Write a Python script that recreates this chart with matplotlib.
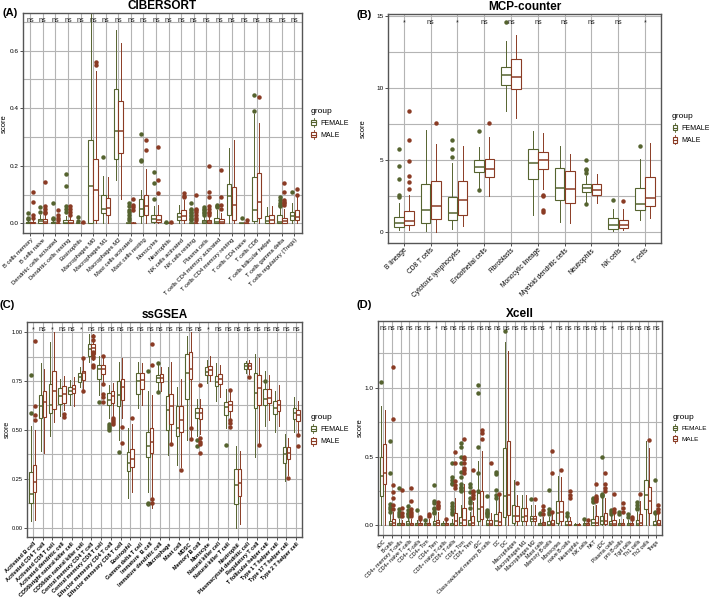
import matplotlib
matplotlib.use('Agg')
import matplotlib.pyplot as plt
from matplotlib.patches import Rectangle, Patch
from matplotlib.lines import Line2D
from matplotlib.legend_handler import HandlerBase
import numpy as np

plt.rcParams['font.family'] = ['Liberation Sans', 'DejaVu Sans']

FEM_COL = '#55632f'
MALE_COL = '#8a3b24'

# ---------------- (A) CIBERSORT ----------------
a_cells = ['B cells memory', 'B cells naive', 'Dendritic cells activated', 'Dendritic cells resting',
           'Eosinophils', 'Macrophages M0', 'Macrophages M1', 'Macrophages M2', 'Mast cells activated',
           'Mast cells resting', 'Monocytes', 'Neutrophils', 'NK cells activated', 'NK cells resting',
           'Plasma cells', 'T cells CD4 memory activated', 'T cells CD4 memory resting', 'T cells CD4 naive',
           'T cells CD8', 'T cells follicular helper', 'T cells gamma delta', 'T cells regulatory (Tregs)']
a_sig = ['ns'] * 22
# (whislo, q1, med, q3, whishi)
a_female = [(0, 0, 0.001, 0.005, 0.01), (0, 0.002, 0.008, 0.015, 0.03), (0, 0, 0.001, 0.005, 0.01),
            (0, 0, 0.002, 0.01, 0.025), (0, 0, 0, 0.002, 0.004), (0, 0, 0.13, 0.29, 0.73),
            (0, 0.035, 0.05, 0.10, 0.165), (0.15, 0.225, 0.32, 0.465, 0.67), (0, 0, 0, 0, 0),
            (0, 0.025, 0.05, 0.085, 0.115), (0, 0.003, 0.015, 0.03, 0.06), (0, 0, 0, 0.001, 0.002),
            (0, 0.012, 0.022, 0.035, 0.065), (0, 0, 0, 0, 0), (0, 0.001, 0.005, 0.012, 0.025),
            (0, 0, 0.005, 0.02, 0.045), (0, 0.03, 0.095, 0.135, 0.26), (0, 0, 0, 0, 0),
            (0, 0.007, 0.045, 0.16, 0.38), (0, 0.001, 0.008, 0.025, 0.057), (0, 0, 0.005, 0.03, 0.055),
            (0, 0.01, 0.025, 0.04, 0.07)]
a_female_out = [[0.035, 0.02, 0.015], [0.055, 0.04], [0.07, 0.02, 0.015], [0.17, 0.13, 0.06, 0.05, 0.04],
                [0.022, 0.008], [], [0.23], [], [0.07, 0.06, 0.045, 0.04, 0.03, 0.02, 0.01],
                [0.31, 0.22, 0.215], [0.18, 0.14, 0.085], [0.005], [],
                [0.07, 0.05, 0.045, 0.04, 0.035, 0.03, 0.025, 0.02, 0.015, 0.01],
                [0.055, 0.05, 0.045, 0.04, 0.035, 0.03], [0.065, 0.06, 0.055], [], [0.02],
                [0.445, 0.39], [], [0.09, 0.08, 0.07, 0.065, 0.06], [0.11]]
a_male = [(0, 0, 0.001, 0.005, 0.01), (0, 0.002, 0.006, 0.015, 0.03), (0, 0, 0, 0.002, 0.005),
          (0, 0, 0.002, 0.01, 0.025), (0, 0, 0, 0.001, 0.002), (0, 0.01, 0.115, 0.225, 0.53),
          (0, 0.03, 0.053, 0.088, 0.16), (0.085, 0.245, 0.32, 0.425, 0.625), (0, 0, 0, 0.002, 0.004),
          (0, 0.03, 0.06, 0.10, 0.19), (0, 0.003, 0.01, 0.03, 0.065), (0, 0, 0, 0.001, 0.002),
          (0, 0.01, 0.025, 0.045, 0.08), (0, 0, 0, 0.002, 0.005), (0, 0.002, 0.005, 0.012, 0.025),
          (0, 0, 0.005, 0.015, 0.035), (0, 0.01, 0.065, 0.125, 0.29), (0, 0, 0, 0, 0),
          (0, 0.02, 0.075, 0.175, 0.35), (0, 0.001, 0.01, 0.028, 0.06), (0, 0, 0.008, 0.02, 0.05),
          (0, 0.01, 0.022, 0.045, 0.09)]
a_male_out = [[0.11, 0.075, 0.03, 0.02], [0.145, 0.06, 0.05, 0.04, 0.035], [0.045, 0.03, 0.02, 0.01],
              [0.06, 0.05, 0.04, 0.03], [0.005], [0.56, 0.55], [], [], [0.085, 0.065, 0.055, 0.045],
              [0.29, 0.255], [0.265, 0.15, 0.105], [0.004], [0.105, 0.095, 0.09],
              [0.1, 0.05, 0.045, 0.04, 0.03, 0.02, 0.01], [0.2, 0.11, 0.09, 0.06, 0.05, 0.04, 0.035, 0.03],
              [0.185, 0.09, 0.065, 0.05], [], [0.012], [0.44], [],
              [0.14, 0.11, 0.08, 0.075, 0.07, 0.065], [0.12, 0.1]]

# ---------------- (B) MCP-counter ----------------
b_cells = ['B lineage', 'CD8 T cells', 'Cytotoxic lymphocytes', 'Endothelial cells', 'Fibroblasts',
           'Monocytic lineage', 'Myeloid dendritic cells', 'Neutrophils', 'NK cells', 'T cells']
b_sig = ['*', 'ns', '*', 'ns', 'ns', 'ns', 'ns', 'ns', 'ns', '*']
b_female = [(0.1, 0.35, 0.6, 1.05, 2.0), (0.05, 0.65, 1.55, 3.3, 7.1), (0.2, 0.8, 1.3, 2.4, 4.8),
            (3.0, 4.2, 4.55, 5.0, 5.9), (8.4, 10.2, 10.9, 11.5, 13.3), (1.2, 3.7, 4.8, 5.8, 7.0),
            (0.7, 2.2, 3.05, 4.45, 6.0), (2.1, 2.75, 3.05, 3.3, 3.9), (0.05, 0.2, 0.45, 0.95, 1.6),
            (0.85, 1.55, 1.95, 3.05, 5.1)]
b_female_out = [[5.8, 4.6, 3.7, 2.6, 2.4], [], [6.4, 5.8, 5.2], [7.0, 2.9], [14.6], [], [],
                [5.0, 4.4, 4.3, 4.1, 1.95], [2.2], [6.0]]
b_male = [(0.1, 0.45, 0.75, 1.45, 2.6), (0.0, 0.9, 1.8, 3.55, 6.1), (0.4, 1.2, 2.2, 3.55, 6.0),
          (2.5, 3.85, 4.35, 5.1, 6.6), (7.9, 9.95, 10.75, 12.05, 13.7), (3.0, 4.4, 5.0, 5.55, 6.9),
          (0.6, 2.0, 3.0, 4.25, 5.4), (2.0, 2.6, 2.95, 3.35, 4.0), (0.1, 0.25, 0.45, 0.85, 1.6),
          (0.95, 1.8, 2.35, 3.85, 6.2)]
b_male_out = [[8.4, 6.4, 4.9, 3.9, 3.5, 3.0], [7.55], [], [7.55], [], [2.6, 2.5, 1.5, 1.4], [], [], [2.15], []]

# ---------------- (C) ssGSEA ----------------
c_cells = ['Activated B cell', 'Activated CD4 T cell', 'Activated CD8 T cell', 'Activated dendritic cell',
           'CD56bright natural killer cell', 'CD56dim natural killer cell', 'Central memory CD4 T cell',
           'Central memory CD8 T cell', 'Effector memeory CD4 T cell', 'Effector memeory CD8 T cell',
           'Eosinophil', 'Gamma delta T cell', 'Immature  B cell', 'Immature dendritic cell', 'Macrophage',
           'Mast cell', 'MDSC', 'Memory B cell', 'Monocyte', 'Natural killer cell', 'Natural killer T cell',
           'Neutrophil', 'Plasmacytoid dendritic cell', 'Regulatory T cell', 'T follicular helper cell',
           'Type 1 T helper cell', 'Type 17 T helper cell', 'Type 2 T helper cell']
c_sig = ['*', 'ns', '*', 'ns', 'ns', '*', 'ns', 'ns', 'ns', 'ns', 'ns', 'ns', 'ns', 'ns', 'ns', 'ns', 'ns',
         'ns', '*', 'ns', 'ns', 'ns', 'ns', 'ns', 'ns', 'ns', 'ns', 'ns']
c_female = [(0.035, 0.126, 0.174, 0.285, 0.52), (0.39, 0.563, 0.62, 0.68, 0.84), (0.47, 0.585, 0.625, 0.735, 0.95),
            (0.57, 0.635, 0.675, 0.715, 0.76), (0.63, 0.685, 0.70, 0.72, 0.755), (0.72, 0.745, 0.77, 0.79, 0.82),
            (0.85, 0.88, 0.915, 0.94, 0.99), (0.68, 0.76, 0.81, 0.83, 0.88), (0.56, 0.63, 0.655, 0.69, 0.73),
            (0.45, 0.62, 0.68, 0.75, 0.85), (0.15, 0.29, 0.33, 0.385, 0.51), (0.61, 0.685, 0.75, 0.79, 0.85),
            (0.18, 0.36, 0.415, 0.49, 0.70), (0.70, 0.745, 0.765, 0.78, 0.83), (0.37, 0.502, 0.60, 0.672, 0.82),
            (0.32, 0.47, 0.51, 0.62, 0.72), (0.45, 0.66, 0.79, 0.89, 0.98), (0.47, 0.56, 0.585, 0.61, 0.66),
            (0.74, 0.78, 0.795, 0.82, 0.86), (0.65, 0.725, 0.745, 0.775, 0.84), (0.51, 0.575, 0.615, 0.645, 0.71),
            (0.0, 0.12, 0.22, 0.30, 0.42), (0.79, 0.81, 0.825, 0.84, 0.855), (0.36, 0.61, 0.69, 0.79, 0.89),
            (0.52, 0.63, 0.66, 0.71, 0.80), (0.49, 0.58, 0.61, 0.65, 0.70), (0.24, 0.33, 0.375, 0.41, 0.48),
            (0.49, 0.555, 0.585, 0.61, 0.67)]
c_female_out = [[0.78, 0.585], [], [], [], [], [], [], [0.645], [0.53, 0.52, 0.51, 0.50], [0.385], [], [],
                [0.80, 0.125, 0.12], [0.84, 0.695], [], [], [], [0.45, 0.415], [], [], [0.425], [], [], [],
                [0.75], [], [], []]
c_male = [(0.04, 0.183, 0.234, 0.32, 0.50), (0.38, 0.566, 0.645, 0.70, 0.81), (0.54, 0.605, 0.70, 0.80, 1.0),
          (0.60, 0.64, 0.685, 0.725, 0.775), (0.62, 0.69, 0.71, 0.73, 0.77), (0.71, 0.755, 0.79, 0.80, 0.86),
          (0.86, 0.89, 0.92, 0.94, 0.99), (0.74, 0.785, 0.81, 0.83, 0.87), (0.57, 0.64, 0.675, 0.70, 0.74),
          (0.56, 0.655, 0.72, 0.76, 0.87), (0.18, 0.31, 0.35, 0.40, 0.53), (0.63, 0.71, 0.755, 0.79, 0.84),
          (0.10, 0.38, 0.44, 0.51, 0.68), (0.70, 0.745, 0.765, 0.785, 0.82), (0.43, 0.532, 0.62, 0.683, 0.85),
          (0.31, 0.49, 0.55, 0.62, 0.76), (0.45, 0.76, 0.81, 0.90, 1.0), (0.48, 0.555, 0.585, 0.61, 0.66),
          (0.75, 0.78, 0.805, 0.825, 0.88), (0.67, 0.735, 0.76, 0.785, 0.83), (0.56, 0.595, 0.625, 0.65, 0.70),
          (0.02, 0.16, 0.23, 0.30, 0.39), (0.785, 0.81, 0.825, 0.84, 0.86), (0.43, 0.63, 0.715, 0.78, 0.87),
          (0.55, 0.64, 0.665, 0.71, 0.78), (0.52, 0.595, 0.625, 0.655, 0.73), (0.27, 0.35, 0.38, 0.41, 0.46),
          (0.48, 0.545, 0.575, 0.60, 0.65)]
c_male_out = [[0.955, 0.62, 0.575, 0.55], [], [], [0.58, 0.565], [], [0.87, 0.70],
              [0.98, 0.96, 0.90, 0.88, 0.87, 0.83, 0.82], [0.88, 0.735, 0.685, 0.67, 0.645],
              [0.56, 0.55, 0.54, 0.53], [0.515, 0.435], [0.56], [], [0.94, 0.83, 0.145, 0.125], [],
              [0.427], [0.293], [0.51, 0.455], [0.73, 0.46, 0.44, 0.43, 0.38], [], [],
              [0.705, 0.55, 0.535, 0.515], [], [0.77], [0.425], [], [], [0.255], [0.475, 0.42]]

# ---------------- (D) Xcell ----------------
d_cells = ['aDC', 'B-cells', 'CD4+ memory T-cells', 'CD4+ naive T-cells', 'CD4+ T-cells', 'CD4+ Tcm',
           'CD4+ Tem', 'CD8+ naive T-cells', 'CD8+ T-cells', 'CD8+ Tcm', 'CD8+ Tem', 'cDC',
           'Class-switched memory B-cells', 'DC', 'iDC', 'Macrophages', 'Macrophages M1', 'Macrophages M2',
           'Mast cells', 'Memory B-cells', 'Monocytes', 'naive B-cells', 'Neutrophils', 'NK cells', 'NKT',
           'pDC', 'Plasma cells', 'pro B-cells', 'Tgd cells', 'Th1 cells', 'Th2 cells', 'Tregs']
d_sig = ['ns'] * 32
d_sig[6] = '*'
d_sig[19] = '*'
d_sig[26] = '*'
d_female = [(0, 0.21, 0.36, 0.50, 0.865), (0, 0, 0.01, 0.035, 0.08), (0, 0, 0.005, 0.02, 0.05),
            (0, 0, 0.01, 0.03, 0.06), (0, 0, 0.005, 0.02, 0.04), (0, 0, 0.003, 0.015, 0.03),
            (0, 0, 0.01, 0.03, 0.07), (0, 0, 0.003, 0.015, 0.03), (0, 0, 0.005, 0.02, 0.05),
            (0, 0, 0.02, 0.06, 0.15), (0, 0, 0.01, 0.04, 0.10), (0, 0.034, 0.116, 0.232, 0.47),
            (0, 0, 0.01, 0.04, 0.10), (0, 0.005, 0.03, 0.08, 0.19), (0, 0.063, 0.21, 0.56, 1.33),
            (0, 0.02, 0.07, 0.15, 0.33), (0, 0.03, 0.06, 0.13, 0.22), (0, 0.03, 0.05, 0.07, 0.15),
            (0, 0, 0.005, 0.02, 0.05), (0, 0, 0.005, 0.03, 0.06), (0, 0.02, 0.09, 0.18, 0.36),
            (0, 0, 0.005, 0.03, 0.06), (0, 0, 0.002, 0.01, 0.02), (0, 0, 0.005, 0.015, 0.03),
            (0, 0.005, 0.02, 0.05, 0.14), (0, 0.01, 0.03, 0.07, 0.20), (0, 0, 0.01, 0.03, 0.07),
            (0, 0, 0.005, 0.02, 0.05), (0, 0, 0.005, 0.02, 0.04), (0, 0, 0.01, 0.04, 0.10),
            (0, 0.12, 0.22, 0.33, 0.61), (0, 0, 0.005, 0.03, 0.08)]
d_female_out = [[1.04], [0.61, 0.378, 0.155, 0.135, 0.12, 0.10], [0.27, 0.12, 0.10, 0.08, 0.065],
                [0.14, 0.11, 0.09, 0.08, 0.07], [0.11], [0.04], [0.29, 0.18, 0.16, 0.13, 0.12, 0.10, 0.09],
                [], [0.45, 0.35, 0.33, 0.31, 0.30, 0.16, 0.14, 0.12, 0.10, 0.08],
                [0.60, 0.57, 0.50, 0.45, 0.39, 0.35, 0.30, 0.28, 0.27, 0.26, 0.25],
                [0.30, 0.28, 0.24, 0.20, 0.18, 0.16, 0.13], [1.02, 0.96, 0.57, 0.38, 0.25],
                [0.21, 0.11, 0.10, 0.09, 0.08, 0.07], [0.39, 0.37, 0.26, 0.22, 0.20], [1.41], [], [], [0.19],
                [0.09, 0.08], [0.26, 0.12, 0.10, 0.08], [], [0.09, 0.07], [], [0.05],
                [0.20, 0.19, 0.18, 0.17], [0.50, 0.23, 0.22, 0.21], [0.11, 0.10, 0.08], [0.10, 0.08],
                [0.085, 0.06], [0.17, 0.15, 0.13, 0.12], [], [0.33, 0.10, 0.09]]
d_male = [(0.0, 0.30, 0.38, 0.59, 0.84), (0, 0, 0.02, 0.05, 0.10), (0, 0, 0.005, 0.015, 0.04),
          (0, 0, 0.005, 0.02, 0.05), (0, 0, 0.003, 0.015, 0.03), (0, 0, 0.005, 0.02, 0.05),
          (0, 0, 0.015, 0.04, 0.10), (0, 0, 0.005, 0.02, 0.04), (0, 0, 0.03, 0.09, 0.20),
          (0, 0, 0.04, 0.13, 0.30), (0, 0, 0.02, 0.07, 0.17), (0, 0.045, 0.135, 0.25, 0.54),
          (0, 0, 0.01, 0.04, 0.09), (0, 0.005, 0.025, 0.095, 0.22), (0, 0.075, 0.22, 0.61, 1.27),
          (0, 0.03, 0.07, 0.14, 0.22), (0, 0.03, 0.07, 0.13, 0.22), (0, 0.03, 0.05, 0.07, 0.15),
          (0, 0, 0.01, 0.025, 0.06), (0, 0, 0.01, 0.04, 0.08), (0, 0.03, 0.10, 0.18, 0.35),
          (0, 0, 0.005, 0.03, 0.06), (0, 0, 0.002, 0.008, 0.015), (0, 0, 0.003, 0.015, 0.03),
          (0, 0.005, 0.02, 0.07, 0.15), (0, 0.01, 0.035, 0.09, 0.20), (0, 0, 0.01, 0.04, 0.09),
          (0, 0, 0.005, 0.02, 0.05), (0, 0, 0.003, 0.015, 0.03), (0, 0, 0.02, 0.08, 0.18),
          (0, 0.09, 0.18, 0.28, 0.56), (0, 0, 0.01, 0.04, 0.09)]
d_male_out = [[], [1.15, 0.775, 0.29, 0.24, 0.20, 0.15, 0.12], [0.26, 0.13, 0.09, 0.07],
              [0.27, 0.18, 0.12, 0.10, 0.08, 0.07], [0.06, 0.05], [0.08, 0.07], [0.17, 0.15, 0.14, 0.13],
              [0.045], [0.53, 0.45, 0.32, 0.29, 0.27], [0.63, 0.50, 0.48, 0.45, 0.42, 0.40, 0.38],
              [0.40, 0.25, 0.24, 0.22, 0.20], [0.69, 0.67, 0.63], [0.455], [0.23], [], [0.31], [], [0.19],
              [0.14, 0.11, 0.08], [0.54, 0.38, 0.10], [0.40], [0.25, 0.22, 0.20], [], [0.04],
              [0.30, 0.21, 0.20, 0.19, 0.18], [0.38, 0.30, 0.27, 0.25], [0.23, 0.12, 0.10],
              [0.16, 0.13, 0.10], [0.06, 0.05], [0.23], [0.62], [0.15, 0.12, 0.10]]


class BoxKey(HandlerBase):
    def create_artists(self, legend, orig_handle, xdescent, ydescent, width, height, fontsize, trans):
        c = orig_handle.get_edgecolor()
        x0, y0 = -xdescent, -ydescent
        cx = x0 + width / 2
        r = Rectangle((x0 + width * 0.15, y0 + height * 0.15), width * 0.7, height * 0.7,
                      facecolor='white', edgecolor=c, lw=0.8, transform=trans)
        m = Line2D([x0 + width * 0.15, x0 + width * 0.85], [y0 + height / 2] * 2, color=c, lw=0.8, transform=trans)
        t = Line2D([cx, cx], [y0 + height * 0.85, y0 + height * 1.1], color=c, lw=0.6, transform=trans)
        b = Line2D([cx, cx], [y0 - height * 0.1, y0 + height * 0.15], color=c, lw=0.6, transform=trans)
        return [r, m, t, b]


def make_stats(rows, outs):
    return [dict(whislo=r[0], q1=r[1], med=r[2], q3=r[3], whishi=r[4], fliers=o) for r, o in zip(rows, outs)]


def panel(rect, title, cells, sig, fem, fem_out, male, male_out, ylim, yticks, ylabels, minor,
          sig_y, xfs, xbold=False, leg_x=1.02, ylab_x=-0.055, leg_fs=5, yfs=4.6, ylab_fs=5.5):
    ax = fig.add_axes(rect)
    n = len(cells)
    x = np.arange(n)
    for rows, outs, col, dx in [(fem, fem_out, FEM_COL, -0.19), (male, male_out, MALE_COL, 0.19)]:
        ax.bxp(make_stats(rows, outs), positions=x + dx, widths=0.36, showcaps=False, patch_artist=True,
               manage_ticks=False,
               boxprops=dict(facecolor='white', edgecolor=col, linewidth=0.8),
               medianprops=dict(color=col, linewidth=1.1),
               whiskerprops=dict(color=col, linewidth=0.7),
               flierprops=dict(marker='o', markerfacecolor=col, markeredgecolor=col, markersize=2.2))
    for i, s in enumerate(sig):
        ax.text(i, sig_y, s, ha='center', va='center', fontsize=5.2, color='#222222')
    ax.set_xlim(-0.6, n - 0.4)
    ax.set_ylim(*ylim)
    ax.set_xticks(x)
    ax.set_xticklabels(cells, rotation=45, ha='right', va='top', rotation_mode='anchor',
                       fontsize=xfs, fontweight='bold' if xbold else 'normal')
    ax.set_yticks(yticks)
    ax.set_yticklabels(ylabels, fontsize=yfs)
    ax.set_yticks(minor, minor=True)
    ax.set_axisbelow(True)
    ax.grid(True, which='both', color='#b4b4b4', lw=0.8)
    ax.tick_params(which='major', length=2, width=0.6, color='#333333', pad=1.0)
    ax.tick_params(which='minor', length=0)
    for sp in ax.spines.values():
        sp.set_color('#555555')
        sp.set_linewidth(1.0)
    ax.set_ylabel('score', fontsize=ylab_fs)
    ax.yaxis.set_label_coords(ylab_x, 0.5)
    ax.set_title(title, fontsize=8.5, fontweight='bold', pad=3)
    handles = [Patch(edgecolor=FEM_COL, facecolor='white'), Patch(edgecolor=MALE_COL, facecolor='white')]
    ax.legend(handles, ['FEMALE', 'MALE'], handler_map={Patch: BoxKey()}, title='group',
              loc='center left', bbox_to_anchor=(leg_x, 0.5), frameon=False, fontsize=leg_fs,
              title_fontsize=6, handlelength=0.9, handleheight=1.3, handletextpad=0.5,
              labelspacing=0.6, alignment='left', borderaxespad=0)
    return ax


fig = plt.figure(figsize=(7.09, 6.0), dpi=100)

panel([0.032, 0.611, 0.394, 0.367], 'CIBERSORT', a_cells, a_sig, a_female, a_female_out, a_male,
      a_male_out, (-0.035, 0.73), [0, 0.2, 0.4, 0.6], ['0.0', '0.2', '0.4', '0.6'], [0.1, 0.3, 0.5, 0.7],
      0.706, 4.2)
panel([0.547, 0.5955, 0.3855, 0.381], 'MCP-counter', b_cells, b_sig, b_female, b_female_out, b_male,
      b_male_out, (-0.75, 15.15), [0, 5, 10, 15], ['0', '5', '10', '15'], [2.5, 7.5, 12.5], 14.55, 4.8,
      leg_x=1.03, ylab_x=-0.078)
panel([0.038, 0.1045, 0.388, 0.359], 'ssGSEA', c_cells, c_sig, c_female, c_female_out, c_male,
      c_male_out, (-0.05, 1.053), [0, 0.25, 0.5, 0.75, 1.0], ['0.00', '0.25', '0.50', '0.75', '1.00'],
      [0.125, 0.375, 0.625, 0.875], 1.012, 4.0, xbold=True, ylab_x=-0.06, yfs=4.1, ylab_fs=5.0)
panel([0.5327, 0.1083, 0.4006, 0.357], 'Xcell', d_cells, d_sig, d_female, d_female_out, d_male,
      d_male_out, (-0.07, 1.487), [0, 0.5, 1.0], ['0.0', '0.5', '1.0'], [0.25, 0.75, 1.25], 1.43, 3.8,
      leg_x=1.028, ylab_x=-0.05, leg_fs=4.6)

for tx, ty, t in [(0.003, 0.978, '(A)'), (0.503, 0.975, '(B)'), (0.0, 0.492, '(C)'), (0.503, 0.492, '(D)')]:
    fig.text(tx, ty, t, fontsize=8, fontweight='bold', va='center', ha='left')

fig.savefig('out.png', dpi=100)
